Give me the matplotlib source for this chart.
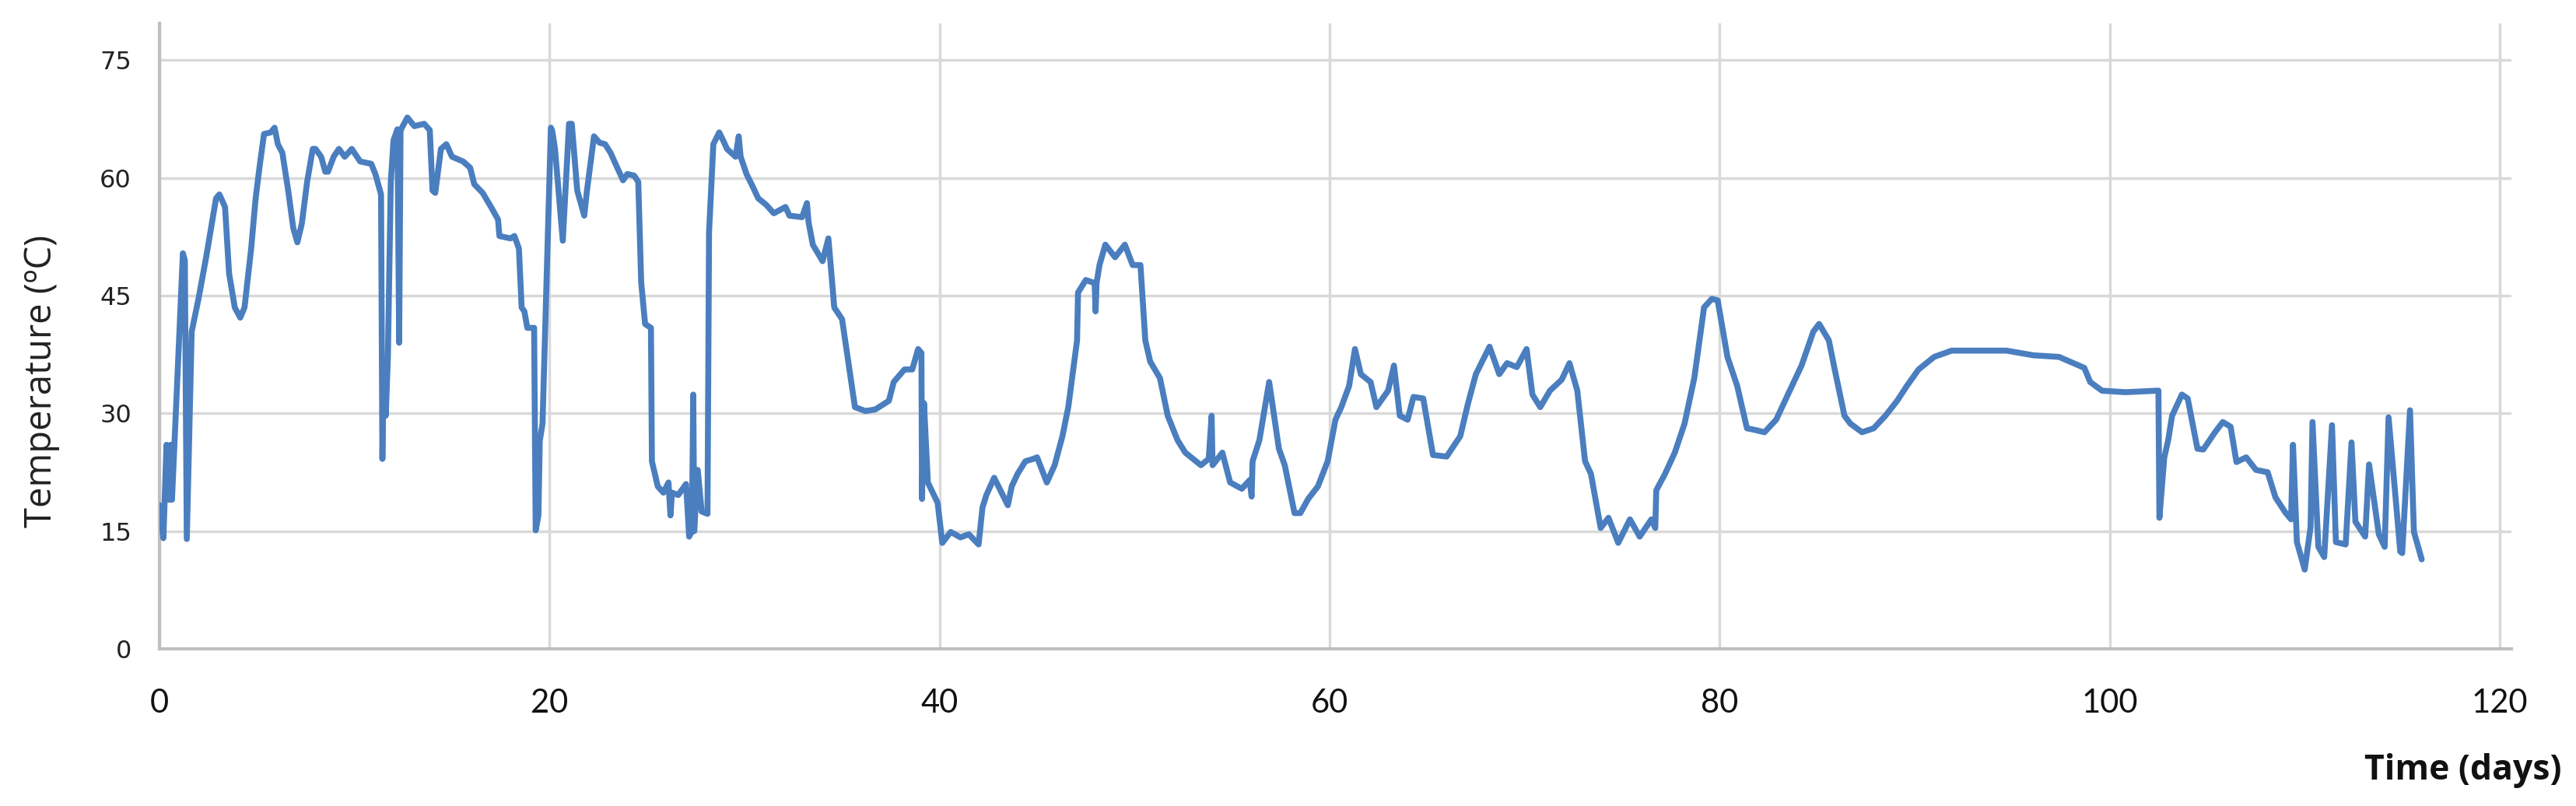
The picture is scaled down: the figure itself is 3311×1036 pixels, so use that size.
import matplotlib
matplotlib.use("Agg")
import matplotlib.pyplot as plt

# temperature trace (time in days, temperature in degC)
days = [
    0.0, 0.2, 0.36, 0.5, 0.57, 0.64, 1.2, 1.3, 1.4, 1.55, 1.65, 2.0, 2.4, 2.9, 3.07,
    3.36, 3.57, 3.86, 4.14, 4.36, 4.7, 4.93, 5.14, 5.36, 5.7, 5.9, 6.07, 6.3, 6.6,
    6.86, 7.07, 7.3, 7.57, 7.86, 8.0, 8.29, 8.5, 8.64, 8.93, 9.2, 9.5, 9.86, 10.29,
    10.86, 11.07, 11.36, 11.43, 11.5, 11.6, 11.71, 11.86, 12.0, 12.2, 12.29, 12.36,
    12.43, 12.71, 13.07, 13.57, 13.86, 14.0, 14.14, 14.43, 14.71, 15.0, 15.57, 15.93,
    16.14, 16.57, 17.0, 17.36, 17.43, 18.0, 18.2, 18.43, 18.57, 18.71, 18.86, 19.21,
    19.29, 19.43, 19.5, 19.64, 20.07,
    20.14, 20.28, 20.68, 21.0, 21.14, 21.42, 21.78, 21.92, 22.28, 22.56, 22.85, 23.13,
    23.42, 23.77, 23.99, 24.34, 24.55, 24.7, 24.9, 25.2, 25.25, 25.55, 25.84, 26.1,
    26.2, 26.28, 26.6, 27.0, 27.16, 27.3, 27.37, 27.42, 27.6, 27.8, 28.1, 28.18, 28.4,
    28.7, 28.9, 29.1, 29.54, 29.7, 29.8, 30.1, 30.4, 30.7, 31.1, 31.5, 32.1, 32.3,
    32.95, 33.2, 33.28, 33.5, 34.0, 34.3, 34.6, 35.0, 35.66, 36.2, 36.7, 37.4, 37.65,
    38.2, 38.6, 38.9, 39.07, 39.1, 39.2, 39.4, 39.9, 40.14, 40.57, 41.07,
    41.5, 42.0, 42.2, 42.4, 42.8, 43.5, 43.7, 44.0, 44.4, 44.8, 45.0, 45.5, 45.9,
    46.3, 46.6, 47.05, 47.1, 47.5, 47.95, 48.0, 48.05, 48.2, 48.5, 49.0, 49.5, 49.9,
    50.3, 50.55, 50.8, 51.3, 51.7, 52.2, 52.6, 53.4, 53.8, 53.95, 54.0, 54.5, 54.9,
    55.5, 55.9, 56.0, 56.05, 56.4, 56.9, 57.4, 57.7, 58.2, 58.5, 58.9, 59.4, 59.9,
    60.3, 60.6, 61.0, 61.3, 61.6, 62.1, 62.4,
    63.0, 63.3, 63.6, 64.0, 64.3, 64.8, 65.3, 66.0, 66.7, 67.1, 67.5, 68.2, 68.7,
    69.1, 69.6, 70.1, 70.4, 70.8, 71.3, 71.9, 72.3, 72.7, 73.1, 73.4, 73.9, 74.3,
    74.8, 75.4, 75.9, 76.5, 76.7, 76.75, 77.2, 77.7, 78.2, 78.7, 79.2, 79.6, 79.9,
    80.4, 80.9, 81.4, 81.8, 82.3, 82.9, 83.5,
    84.2, 84.8, 85.1, 85.6, 85.9, 86.4, 86.7, 87.3, 87.9, 88.5, 89.1, 89.6, 90.2,
    91.0, 91.9, 93.0, 94.7, 96.1, 97.4, 98.7, 99.0, 99.6, 100.8, 102.5, 102.55,
    102.8, 103.0, 103.2, 103.7, 104.0, 104.5,
    104.8, 105.4, 105.8, 106.2, 106.5, 107.0, 107.5, 108.1, 108.5, 109.0, 109.3,
    109.4, 109.6, 110.0, 110.3, 110.4, 110.7, 111.0, 111.4, 111.6, 112.1, 112.4,
    112.6, 113.1, 113.3, 113.8, 114.1, 114.3, 114.9, 115.0, 115.4, 115.6, 116.0,
]
temp = [
    18.3, 14.1, 26, 19, 26, 19, 50.4, 49.5, 14, 30, 40.4, 44.6, 50, 57.4, 57.9,
    56.3, 47.8, 43.5, 42.2, 43.5, 51, 57.4, 61.6, 65.6, 65.8, 66.4, 64.3, 63.2, 58.4,
    53.6, 51.8, 54.2, 59.5, 63.7, 63.7, 62.7, 60.8, 60.8, 62.7, 63.7, 62.7, 63.7, 62.1,
    61.8, 60.5, 57.9, 24.2, 37, 29.7, 37, 59.5, 64.8, 66.2, 39, 66.0,
    66.4, 67.7, 66.6, 66.9, 66.1, 58.4, 58.1, 63.7, 64.3, 62.7, 62.1, 61.3,
    59.2, 58.1, 56.3, 54.7, 52.6, 52.3, 52.6, 51, 43.5, 43, 40.9, 40.9,
    15.1, 17, 26.5, 28.7, 66.4,
    66, 63.7, 52, 66.9, 66.9, 58.4, 55.2, 58.4, 65.3, 64.5, 64.3, 63.2,
    61.6, 59.7, 60.5, 60.3, 59.5, 46.7, 41.4, 40.9, 23.9, 20.7, 19.9, 21.2,
    17, 19.9, 19.6, 21, 14.3, 15, 32.4, 15, 22.8, 17.5, 17.2, 53.1, 64.3,
    65.8, 64.8, 63.7, 62.7, 65.3, 62.7, 60.5, 59, 57.4, 56.6, 55.5, 56.3, 55.2,
    55, 56.8, 54.4, 51.5, 49.4, 52.3, 43.5, 42, 30.8, 30.3, 30.5, 31.6, 34,
    35.6, 35.6, 38.2, 37.7, 19.1, 31.3, 21.2, 18.6, 13.5, 14.9, 14.2,
    14.6, 13.3, 18, 19.6, 21.8, 18.3, 20.7, 22.3, 23.9, 24.2, 24.4, 21.2, 23.4,
    27.1, 30.8, 39.3, 45.4, 47, 46.6, 43, 46.6, 48.9, 51.5, 49.9, 51.5, 48.9,
    48.9, 39.3, 36.6, 34.5, 29.7, 26.6, 25, 23.4, 24.2, 29.7, 23.4, 25, 21.2,
    20.4, 21.5, 19.4, 23.9, 26.6, 34, 25.5, 23.4, 17.3, 17.3, 19.1, 20.7, 23.9,
    29.2, 30.8, 33.5, 38.2, 35, 34, 30.8,
    32.9, 36.1, 29.7, 29.2, 32.1, 31.9, 24.7, 24.5, 27.1, 31.3, 35, 38.5, 35,
    36.4, 35.9, 38.2, 32.4, 30.8, 32.9, 34.3, 36.4, 32.9, 23.9, 22.3, 15.4, 16.7,
    13.5, 16.5, 14.3, 16.5, 15.4, 20.2, 22.3, 25, 28.7, 34.5, 43.5, 44.6, 44.4,
    37.2, 33.5, 28.1, 27.9, 27.6, 29.2, 32.4,
    36.1, 40.4, 41.4, 39.3, 35.6, 29.7, 28.7, 27.6, 28.1, 29.7, 31.6, 33.5, 35.6,
    37.2, 38, 38, 38, 37.4, 37.2, 35.8, 34, 32.9, 32.7, 32.9, 16.7,
    24.4, 26.6, 29.7, 32.4, 31.9, 25.5,
    25.4, 27.6, 28.9, 28.3, 23.8, 24.4, 22.8, 22.5, 19.3, 17.4, 16.5,
    26, 13.6, 10.1, 15.5, 28.9, 13, 11.7, 28.5, 13.6, 13.3, 26.3,
    16.2, 14.3, 23.5, 14.6, 13, 29.5, 12.4, 12.2, 30.4, 14.9, 11.4,
]
x_ticks = [0, 20, 40, 60, 80, 100, 120]
y_ticks = [0, 15, 30, 45, 60, 75]

fig = plt.figure(figsize=(33.12, 10.36), dpi=100)
ax = fig.add_axes([205/3312, 202/1036, 3023/3312, 804/1036])

ax.plot(days, temp, color="#4a7ebf", lw=5.5, solid_joinstyle="round",
        solid_capstyle="round", zorder=3)

ax.set_xlim(0, 120.6); ax.set_ylim(0, 79.7)
ax.set_xticks(x_ticks); ax.set_yticks(y_ticks)
ax.grid(True, color="#d9d9d9", lw=2.5); ax.set_axisbelow(True)
for s in ["top", "right"]:
    ax.spines[s].set_visible(False)
for s in ["left", "bottom"]:
    ax.spines[s].set_color("#bfbfbf"); ax.spines[s].set_linewidth(3)
ax.tick_params(length=0)
ax.tick_params(axis="x", pad=37, labelsize=30, labelcolor="#111111")
ax.tick_params(axis="y", pad=26, labelsize=23, labelcolor="#222222")
for t in ax.get_xticklabels():
    t.set_family("Lato")

fig.text(0.016, 0.527, "Temperature (ºC)", rotation=90, ha="center", va="center",
         fontsize=34, family="Open Sans", color="#222222")
fig.text(0.994, 0.044, "Time (days)", ha="right", va="center",
         fontsize=32, family="Open Sans", fontweight="bold", color="#111111")

fig.savefig("out.png", dpi=100, facecolor="white")
